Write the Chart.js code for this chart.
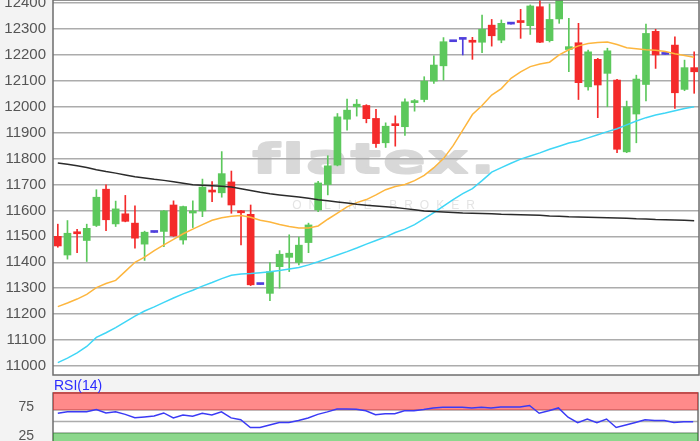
<!DOCTYPE html>
<html>
<head>
<meta charset="utf-8">
<script src="https://cdn.jsdelivr.net/npm/chart.js@4.4.1/dist/chart.umd.min.js"></script>
<style>
  html, body { margin: 0; padding: 0; background: #f3f3f3; overflow: hidden; }
  #wrap { position: relative; width: 700px; height: 441px; }
  #main { position: absolute; left: 0; top: 0; width: 700px; height: 378px; }
  #rsi { position: absolute; left: 0; top: 378px; width: 700px; height: 80px; }
  #rsiLabel { position: absolute; left: 54px; top: 377px; font: 14px "Liberation Sans", Arial, sans-serif; color: #2c2cff; }
</style>
</head>
<body>
<div id="wrap">
  <div id="main"><canvas id="priceChart"></canvas></div>
  <div id="rsi"><canvas id="rsiChart"></canvas></div>
  <div id="rsiLabel">RSI(14)</div>
</div>
<script>
// daily candles
const openVals = [
  11500, 11428, 11515, 11484, 11542, 11682, 11548, 11587, 11551, 11470,
  11515, 11519, 11621, 11486, 11590, 11598, 11675, 11668, 11710, 11596,
  11585, 11314, 11280, 11383, 11419, 11399, 11476, 11602, 11700, 11775,
  11952, 12000, 12005, 11955, 11861, 11931, 11923, 12016, 12028, 12099,
  12158, 12251, 12260, 12253, 12249, 12315, 12257, 12319, 12329, 12313,
  12386, 12255, 12339, 12221, 12247, 12077, 12183, 12129, 12103, 11826,
  11972, 12086, 12291, 12202, 12238, 12067, 12151
];
const highVals = [
  11547, 11561, 11527, 11547, 11680, 11699, 11636, 11658, 11618, 11520,
  11515, 11600, 11637, 11617, 11637, 11721, 11711, 11827, 11752, 11600,
  11621, 11314, 11399, 11445, 11506, 11497, 11551, 11712, 11811, 11974,
  12030, 12028, 12008, 11990, 11938, 11965, 12031, 12028, 12116, 12197,
  12267, 12251, 12264, 12268, 12354, 12337, 12335, 12319, 12376, 12393,
  12415, 12397, 12440, 12341, 12322, 12219, 12187, 12226, 12106, 12022,
  12122, 12319, 12299, 12202, 12270, 12180, 12212
];
const lowVals = [
  11458, 11412, 11437, 11403, 11538, 11522, 11538, 11556, 11454, 11407,
  11515, 11460, 11500, 11470, 11534, 11576, 11634, 11651, 11589, 11467,
  11310, 11314, 11252, 11300, 11364, 11390, 11437, 11595, 11660, 11772,
  11910, 11964, 11938, 11843, 11843, 11848, 11889, 11983, 12019, 12090,
  12103, 12251, 12200, 12183, 12209, 12234, 12247, 12319, 12264, 12279,
  12247, 12250, 12322, 12135, 12028, 12064, 11958, 12000, 11823, 11823,
  11861, 12023, 12148, 12202, 11994, 12062, 12052
];
const closeVals = [
  11463, 11512, 11510, 11531, 11651, 11564, 11606, 11558, 11493, 11516,
  11515, 11598, 11502, 11615, 11593, 11690, 11671, 11742, 11621, 11591,
  11313, 11314, 11364, 11431, 11435, 11466, 11544, 11706, 11772, 11961,
  11987, 12010, 11954, 11858, 11925, 11927, 12019, 12022, 12099, 12161,
  12251, 12251, 12260, 12249, 12299, 12274, 12322, 12319, 12325, 12389,
  12249, 12337, 12420, 12232, 12093, 12212, 12084, 12216, 11836, 12000,
  12107, 12283, 12200, 12202, 12054, 12151, 12135
];

// moving averages
const sma20 = [
  11229, 11243, 11258, 11276, 11302, 11318, 11330, 11365, 11400, 11420,
  11445, 11467, 11488, 11510, 11528, 11545, 11562, 11572, 11578, 11580,
  11574, 11562, 11555, 11546, 11538, 11532, 11532, 11540, 11566, 11590,
  11614, 11630, 11642, 11660, 11680, 11692, 11700, 11715, 11735, 11765,
  11800, 11850, 11910, 11970, 12005, 12045, 12070, 12110, 12135, 12155,
  12165, 12172, 12200, 12220, 12235, 12244, 12248, 12250, 12240, 12228,
  12224, 12220, 12218, 12213, 12205, 12198, 12191
];
const sma50 = [
  11013, 11030, 11050, 11075, 11110, 11128, 11148, 11170, 11192, 11212,
  11228, 11245, 11262, 11278, 11292, 11308, 11322, 11337, 11350, 11355,
  11357, 11360, 11363, 11368, 11374, 11380, 11390, 11402, 11415, 11428,
  11441, 11455, 11470, 11484, 11498, 11515, 11528, 11545, 11568, 11592,
  11617, 11642, 11665, 11684, 11715, 11748, 11765, 11782, 11798, 11810,
  11822, 11836, 11848, 11860, 11868, 11880, 11892, 11904, 11915, 11930,
  11945, 11958, 11968, 11976, 11985, 11993, 12000
];
const sma200 = [
  11783, 11778, 11772, 11766, 11757, 11750, 11744, 11737, 11730, 11725,
  11720, 11716, 11711, 11705, 11699, 11697, 11695, 11693, 11690, 11684,
  11677, 11670, 11664, 11660, 11656, 11652, 11647, 11641, 11637, 11633,
  11629, 11624, 11620, 11617, 11614, 11611, 11607, 11603, 11598, 11596,
  11594, 11592, 11590, 11589, 11588, 11587, 11585, 11584, 11583, 11582,
  11581, 11579, 11578, 11576, 11575, 11574, 11573, 11572, 11571, 11570,
  11568, 11567, 11565, 11564, 11563, 11562, 11560
];

const rsiVals = [
  64.4, 66.9, 67.0, 67.0, 71.0, 65.0, 67.0, 62.5, 56.5, 58.0,
  59.5, 65.0, 56.3, 61.3, 59.4, 64.4, 61.3, 66.9, 56.3, 53.0,
  39.4, 39.4, 43.8, 48.1, 48.1, 51.9, 56.3, 62.5, 66.9, 71.9,
  72.0, 71.5, 68.8, 62.0, 63.8, 63.8, 68.8, 68.8, 71.0, 73.8,
  75.0, 75.0, 75.0, 73.8, 75.0, 73.8, 75.5, 75.6, 75.6, 78.1,
  64.4, 68.8, 73.8, 57.5, 48.1, 54.4, 48.1, 54.4, 39.4, 43.8,
  48.1, 53.1, 51.9, 51.9, 48.1, 49.4, 49.4
];

const priceTicks = [11000, 11100, 11200, 11300, 11400, 11500, 11600, 11700,
                    11800, 11900, 12000, 12100, 12200, 12300, 12400];
const rsiTicks = [25, 75];
const rsiGrid = [30, 50, 70];
const overbought = 70;
const oversold = 30;

const days = openVals.map((_, i) => 'T' + (i + 1));

const upColor = '#5cc85c';
const downColor = '#f42a2a';
const flatColor = '#4f3fdc';
const candleColors = openVals.map((o, i) =>
  closeVals[i] > o ? upColor : (closeVals[i] < o ? downColor : flatColor));

const fontFamily = '"Liberation Sans", Arial, sans-serif';

function fixAxis(width) {
  return function (scale) {
    scale.width = width;
    scale.paddingTop = 0;
    scale.paddingBottom = 0;
  };
}

const panelBg = {
  id: 'panelBg',
  beforeDraw(chart) {
    const { ctx, chartArea: a } = chart;
    ctx.save();
    ctx.fillStyle = '#f3f3f3';
    ctx.fillRect(0, 0, chart.width, chart.height);
    ctx.fillStyle = '#ffffff';
    ctx.fillRect(a.left, a.top, a.right - a.left, a.bottom - a.top);
    ctx.restore();
  }
};

const watermark = {
  id: 'watermark',
  beforeDraw(chart) {
    const ctx = chart.ctx;
    ctx.save();
    ctx.fillStyle = '#d8d8d8';
    ctx.strokeStyle = '#d8d8d8';
    ctx.lineWidth = 2;
    ctx.lineJoin = 'round';
    ctx.textAlign = 'center';
    ctx.textBaseline = 'alphabetic';
    ctx.translate(375, 173);
    ctx.scale(1.5, 1);
    ctx.font = 'bold 41px "DejaVu Sans"';
    ctx.letterSpacing = '2px';
    ctx.fillText('flatex.', 0, 0);
    ctx.strokeText('flatex.', 0, 0);
    ctx.restore();
    ctx.save();
    ctx.fillStyle = '#e4e4e4';
    ctx.textAlign = 'center';
    ctx.textBaseline = 'middle';
    ctx.font = '12px ' + fontFamily;
    ctx.letterSpacing = '7px';
    ctx.fillText('ONLINE BROKER', 387, 206);
    ctx.restore();
  }
};

const frame = {
  id: 'frame',
  afterDatasetsDraw(chart) {
    const { ctx, chartArea: a } = chart;
    ctx.save();
    ctx.strokeStyle = '#6e6e6e';
    ctx.lineWidth = 1.5;
    ctx.strokeRect(a.left, a.top, a.right - a.left, a.bottom - a.top);
    ctx.restore();
  }
};

new Chart(document.getElementById('priceChart'), {
  type: 'bar',
  data: {
    labels: days,
    datasets: [
      { type: 'line', data: sma200, borderColor: '#2b2b2b', borderWidth: 1.5, pointRadius: 0, tension: 0, order: 0 },
      { type: 'line', data: sma50, borderColor: '#3fd6f6', borderWidth: 1.5, pointRadius: 0, tension: 0, order: 0 },
      { type: 'line', data: sma20, borderColor: '#fdb63e', borderWidth: 1.5, pointRadius: 0, tension: 0, order: 0 },
      {
        data: openVals.map((o, i) => [o, closeVals[i]]),
        backgroundColor: candleColors,
        barThickness: 7, minBarLength: 2, grouped: false, order: 1
      },
      {
        data: lowVals.map((l, i) => [l, highVals[i]]),
        backgroundColor: candleColors,
        barThickness: 1, grouped: false, order: 2
      }
    ]
  },
  options: {
    responsive: true,
    maintainAspectRatio: false,
    animation: false,
    devicePixelRatio: 1,
    layout: { padding: { top: 0, right: 1, bottom: 3, left: 0 } },
    plugins: { legend: { display: false }, tooltip: { enabled: false } },
    scales: {
      x: { display: false, offset: true },
      y: {
        min: 10965,
        max: 12412,
        afterBuildTicks: scale => { scale.ticks = priceTicks.map(v => ({ value: v })); },
        afterFit: fixAxis(53),
        border: { display: false },
        grid: { color: '#acacac', lineWidth: 1.5, drawTicks: false },
        ticks: {
          padding: 7, color: '#555', font: { family: fontFamily, size: 15 },
          callback: v => String(v)
        }
      }
    }
  },
  plugins: [panelBg, watermark, frame]
});

const rsiBands = {
  id: 'rsiBands',
  beforeDatasetsDraw(chart) {
    const { ctx, chartArea: a, scales: { y } } = chart;
    ctx.save();
    ctx.strokeStyle = '#acacac';
    ctx.lineWidth = 1.5;
    rsiGrid.forEach(v => {
      const py = y.getPixelForValue(v);
      ctx.beginPath();
      ctx.moveTo(a.left, py);
      ctx.lineTo(a.right, py);
      ctx.stroke();
    });
    ctx.strokeStyle = '#6e6e6e';
    ctx.strokeRect(a.left, a.top, a.right - a.left, a.bottom - a.top);
    const top = y.getPixelForValue(100);
    const ob = y.getPixelForValue(overbought);
    const os = y.getPixelForValue(oversold);
    const bottom = y.getPixelForValue(0);
    ctx.fillStyle = 'rgba(255, 0, 0, 0.46)';
    ctx.fillRect(a.left, top - 1, a.right - a.left, ob - top + 1);
    ctx.fillStyle = 'rgba(0, 167, 0, 0.45)';
    ctx.fillRect(a.left, os, a.right - a.left, bottom - os);
    ctx.restore();
  }
};

new Chart(document.getElementById('rsiChart'), {
  type: 'line',
  data: {
    labels: days,
    datasets: [
      { data: rsiVals, borderColor: '#3a3af5', borderWidth: 1.5, pointRadius: 0, tension: 0 }
    ]
  },
  options: {
    responsive: true,
    maintainAspectRatio: false,
    animation: false,
    devicePixelRatio: 1,
    layout: { padding: { top: 15, right: 2, bottom: 8, left: 0 } },
    plugins: { legend: { display: false }, tooltip: { enabled: false } },
    scales: {
      x: { display: false, offset: true },
      y: {
        min: 0,
        max: 100,
        afterBuildTicks: scale => { scale.ticks = rsiTicks.map(v => ({ value: v })); },
        afterFit: fixAxis(53),
        border: { display: false },
        grid: { display: false },
        ticks: { padding: 11, color: '#555', font: { family: fontFamily, size: 14 } }
      }
    }
  },
  plugins: [panelBg, rsiBands]
});
</script>
</body>
</html>
